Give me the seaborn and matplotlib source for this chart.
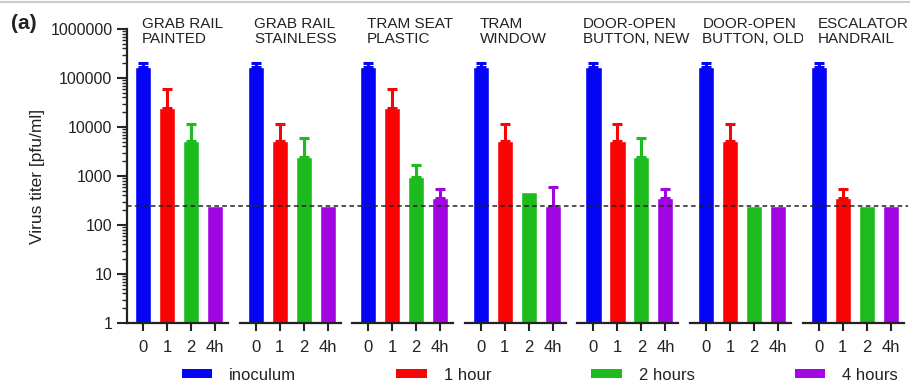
import numpy as np
import pandas as pd
import matplotlib
matplotlib.use("Agg")
import matplotlib.pyplot as plt
import seaborn as sns
from matplotlib.lines import Line2D
from matplotlib.patches import Patch
from matplotlib import transforms

# ---------------- data ----------------
surfaces = ["GRAB RAIL\nPAINTED", "GRAB RAIL\nSTAINLESS", "TRAM SEAT\nPLASTIC",
            "TRAM\nWINDOW", "DOOR-OPEN\nBUTTON, NEW", "DOOR-OPEN\nBUTTON, OLD",
            "ESCALATOR\nHANDRAIL"]
time_labels = ["0", "1", "2", "4h"]
series_names = ["inoculum", "1 hour", "2 hours", "4 hours"]

inoculum = [170000, 170000, 170000, 170000, 170000, 170000, 170000]
hour1 = [25000, 5300, 25000, 5300, 5300, 5100, 360]
hour2 = [5300, 2500, 950, 480, 2500, 250, 250]
hour4 = [250, 250, 360, 250, 360, 250, 250]

inoculum_err_top = [200000, 200000, 200000, 200000, 200000, 200000, 200000]
hour1_err_top = [60000, 11700, 60000, 11700, 11700, 11700, 550]
hour2_err_top = [11700, 6000, 1700, 480, 6000, 250, 250]
hour4_err_top = [250, 250, 550, 600, 550, 250, 250]

detection_limit = 250
ytick_values = [1, 10, 100, 1000, 10000, 100000, 1000000]

colors = ["#0505F5", "#F80404", "#1EBB1E", "#A005E2"]

values = [inoculum, hour1, hour2, hour4]
err_tops = [inoculum_err_top, hour1_err_top, hour2_err_top, hour4_err_top]

rows = []
for gi, s in enumerate(surfaces):
    for ti, t in enumerate(time_labels):
        rows.append({"surface": s, "time": t, "titer": values[ti][gi],
                     "err_top": err_tops[ti][gi]})
df = pd.DataFrame(rows)

# ---------------- style ----------------
sns.set_style("ticks")
plt.rcParams["font.family"] = ["Liberation Sans", "DejaVu Sans"]

W, H = 910, 390
fig = plt.figure(figsize=(W / 100, H / 100), dpi=100)

ax_left_px = 127
ax_w_px = 101
step_px = 112.6
top_px, bottom_px = 29, 323

title_dx = [-0.05, -0.05, -0.05, -0.05, -0.45, -0.15, -0.05]

axes = []
for gi, s in enumerate(surfaces):
    left = (ax_left_px + gi * step_px) / W
    ax = fig.add_axes([left, (H - bottom_px) / H, ax_w_px / W, (bottom_px - top_px) / H])
    axes.append(ax)
    sub = df[df["surface"] == s]
    ax.set_yscale("log")
    sns.barplot(data=sub, x="time", y="titer", hue="time", order=time_labels,
                hue_order=time_labels, palette=colors, width=0.67, saturation=1,
                legend=False, errorbar=None, ax=ax)
    for ti, t in enumerate(time_labels):
        r = sub[sub["time"] == t].iloc[0]
        up = r["err_top"] - r["titer"]
        if up > 0:
            ax.errorbar([ti], [r["titer"]], yerr=[[0], [up]], fmt="none",
                        ecolor=colors[ti], elinewidth=2.2, capsize=3.5, capthick=2.2,
                        zorder=1)
    ax.set_ylim(1, 1000000)
    ax.set_xlim(-0.67, 3.54)
    ax.set_xlabel("")
    ax.set_ylabel("")
    ax.set_xticks(range(4))
    ax.set_xticklabels(time_labels, fontsize=12)
    ax.tick_params(axis="x", direction="out", length=6, width=1.5, pad=6, colors="#222222")
    for sp in ["top", "right"]:
        ax.spines[sp].set_visible(False)
    ax.spines["bottom"].set_linewidth(1.6)
    ax.spines["bottom"].set_color("#222222")
    ax.text(title_dx[gi], 1.0 + 12 / (bottom_px - top_px), s,
            transform=transforms.blended_transform_factory(ax.transData, ax.transAxes),
            ha="left", va="top", fontsize=11, linespacing=1.05, color="#222222")
    if gi == 0:
        ax.set_yticks(ytick_values)
        ax.set_yticklabels([str(v) for v in ytick_values], fontsize=11.5, color="#222222")
        ax.tick_params(axis="y", which="major", direction="out", length=7, width=1.5)
        ax.tick_params(axis="y", which="minor", direction="out", length=3.5, width=1.0)
        ax.spines["left"].set_linewidth(1.6)
        ax.spines["left"].set_color("#222222")
        ax.set_ylabel("Virus titer [pfu/ml]", fontsize=12.5, labelpad=4, color="#222222")
    else:
        ax.spines["left"].set_visible(False)
        ax.tick_params(axis="y", which="both", left=False, labelleft=False)

# detection limit dashed line across the figure
ax0 = axes[0]
trans = transforms.blended_transform_factory(fig.transFigure, ax0.transData)
fig.add_artist(Line2D([ax_left_px / W, 0.998], [detection_limit, detection_limit],
                      transform=trans, color="#222222", lw=1.1,
                      linestyle=(0, (3, 2.2)), zorder=5))

# grey border line at top
fig.add_artist(Line2D([0, 1], [1 - 2 / H, 1 - 2 / H], transform=fig.transFigure,
                      color="#cccccc", lw=1.5))

# panel letter
fig.text(11 / W, 1 - 14 / H, "(a)", fontsize=15, fontweight="bold", va="top",
         ha="left", color="#222222")

# legend
handles = [Patch(facecolor=c, edgecolor="none") for c in colors]
fig.legend(handles, series_names, loc="center", ncol=4, frameon=False,
           bbox_to_anchor=(0.593, 1 - 375 / H), fontsize=12, handlelength=1.85,
           handleheight=0.5, handletextpad=1.0, columnspacing=6.0,
           labelcolor="#222222")

fig.savefig("out.png", dpi=100)
